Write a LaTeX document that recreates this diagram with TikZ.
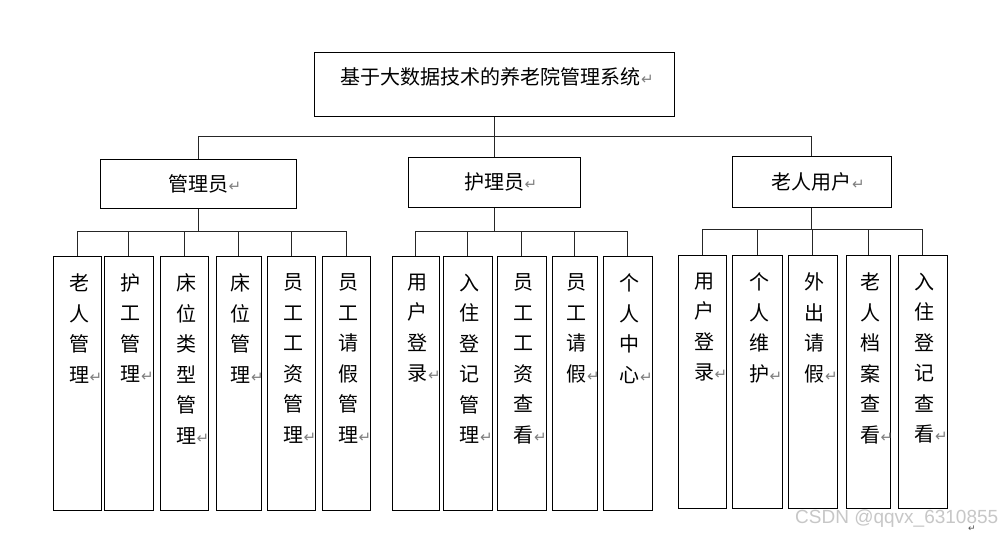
\documentclass[tikz,border=0pt]{standalone}
\usepackage{fontspec}
\newfontfamily\cjk{Noto Sans CJK SC}
\newfontfamily\symf{DejaVu Sans}
\newfontfamily\wmf{Liberation Sans}
\newcommand\ret{\rlap{\hspace{0.5pt}{\symf\color{gray}\fontsize{15}{15}\selectfont ↵}}}
\tikzset{
  box/.style={draw=black, line width=1pt, inner sep=0pt, fill=white},
  conn/.style={draw=black!85, line width=1pt},
  cjktext/.style={font=\cjk\fontsize{20}{30.5}\selectfont, inner sep=0pt, align=center},
}
\newcommand\leaf[6]{%
  \node[box, minimum width=#4pt, minimum height=#5pt] (#1) at (#2,#3) {};
  \node[cjktext, anchor=north] (#1t) at ([xshift=2pt,yshift=-18pt]#1.north) {#6};
}
\begin{document}
\begin{tikzpicture}[x=1pt,y=-1pt]
\useasboundingbox (0,0) rectangle (1004,535);
\fill[white] (0,0) rectangle (1004,535);

% root
\node[box, minimum width=360pt, minimum height=63pt] (root) at (494,84.5) {};
\node[cjktext] (rootlbl) at (490.5,77) {基于大数据技术的养老院管理系统\ret};

% second level
\node[box, minimum width=196pt, minimum height=49pt] (g1) at (198,183.5) {};
\node[cjktext] (g1t) at (g1.center) {管理员\ret};
\node[box, minimum width=172pt, minimum height=50pt] (g2) at (494,182) {};
\node[cjktext] (g2t) at (g2.center) {护理员\ret};
\node[box, minimum width=159pt, minimum height=51pt] (g3) at (811.5,181.5) {};
\node[cjktext] (g3t) at (g3.center) {老人用户\ret};

\coordinate (rb) at ([yshift=-20pt]root.south);
\draw[conn] (root.south) -- (rb);
\draw[conn] (g1.north) |- (rb);
\draw[conn] (g3.north) |- (rb);
\draw[conn] (g2.north) -- (rb);

% leaves of 管理员
\leaf{l1}{77}{383}{48}{254}{老\\人\\管\\理\ret}
\leaf{l2}{128.5}{383}{49}{254}{护\\工\\管\\理\ret}
\leaf{l3}{184}{383}{48}{254}{床\\位\\类\\型\\管\\理\ret}
\leaf{l4}{238.5}{383}{45}{254}{床\\位\\管\\理\ret}
\leaf{l5}{291}{383}{48}{254}{员\\工\\工\\资\\管\\理\ret}
\leaf{l6}{346}{383}{48}{254}{员\\工\\请\\假\\管\\理\ret}

% leaves of 护理员
\leaf{n1}{415.5}{383}{47}{254}{用\\户\\登\\录\ret}
\leaf{n2}{467.5}{383}{49}{254}{入\\住\\登\\记\\管\\理\ret}
\leaf{n3}{521.5}{383}{49}{254}{员\\工\\工\\资\\查\\看\ret}
\leaf{n4}{574.5}{383}{45}{254}{员\\工\\请\\假\ret}
\leaf{n5}{627.5}{383}{49}{254}{个\\人\\中\\心\ret}

% leaves of 老人用户
\leaf{e1}{702}{381.5}{48}{253}{用\\户\\登\\录\ret}
\leaf{e2}{757}{381.5}{50}{253}{个\\人\\维\\护\ret}
\leaf{e3}{812.5}{381.5}{49}{253}{外\\出\\请\\假\ret}
\leaf{e4}{868}{381.5}{44}{253}{老\\人\\档\\案\\查\\看\ret}
\leaf{e5}{922.5}{381.5}{49}{253}{入\\住\\登\\记\\查\\看\ret}

\foreach \n in {l1,l2,l3,l4,l5,l6} \draw[conn] (\n.north) -- ++(0,-24) -| (g1.south);
\foreach \n in {n1,n2,n3,n4,n5} \draw[conn] (\n.north) -- ++(0,-24) -| (g2.south);
\foreach \n in {e1,e2,e3,e4,e5} \draw[conn] (\n.north) -- ++(0,-25) -| (g3.south);

% watermark
\node[font=\wmf\fontsize{19}{19}\selectfont, text=black!22, inner sep=0pt, anchor=base west] (wm) at (795,523) {CSDN @qqvx\_6310855};
\node[font=\symf\fontsize{9}{9}\selectfont, text=black!70, inner sep=0pt] (mark) at (972,529) {↵};
\end{tikzpicture}
\end{document}
